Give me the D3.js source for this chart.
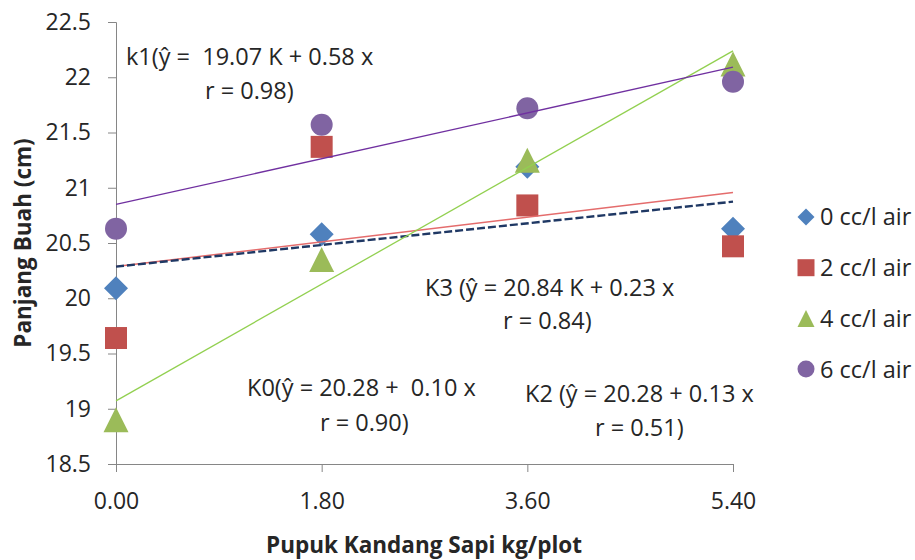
<!DOCTYPE html>
<html>
<head>
<meta charset="utf-8">
<script src="https://d3js.org/d3.v7.min.js"></script>
<style>
  body { margin: 0; background: #fff; }
  svg text { font-family: "Open Sans", "Noto Sans", sans-serif; fill: #262626; white-space: pre; }
  .axis path, .axis line { stroke: #868686; }
  .axis text { fill: #262626; }
</style>
<title>Panjang Buah</title>
</head>
<body>
<svg id="chart" width="915" height="560"></svg>
<script>
// data
var categories = ["0.00", "1.80", "3.60", "5.40"];
var seriesNames = ["0 cc/l air", "2 cc/l air", "4 cc/l air", "6 cc/l air"];
var air0 = [20.09, 20.58, 21.19, 20.63];
var air2 = [19.64, 21.37, 20.84, 20.47];
var air4 = [18.90, 20.35, 21.25, 22.12];
var air6 = [20.63, 21.57, 21.72, 21.96];
var yTicks = [18.5, 19, 19.5, 20, 20.5, 21, 21.5, 22, 22.5];

var annotations = [
  ["k1(ŷ =  19.07 K + 0.58 x", "r = 0.98)"],
  ["K3 (ŷ = 20.84 K + 0.23 x", "r = 0.84)"],
  ["K0(ŷ = 20.28 +  0.10 x", "r = 0.90)"],
  ["K2 (ŷ = 20.28 + 0.13 x", "r = 0.51)"]
];

var series = [air0, air2, air4, air6];

// excel-like marker shapes
var diamond = { draw: function(c, size) { var r = Math.sqrt(size) / 2;
  c.moveTo(0, -r); c.lineTo(r, 0); c.lineTo(0, r); c.lineTo(-r, 0); c.closePath(); } };
var triangle = { draw: function(c, size) { var r = Math.sqrt(size) / 2;
  c.moveTo(0, -r); c.lineTo(r, r); c.lineTo(-r, r); c.closePath(); } };
var square = { draw: function(c, size) { var r = Math.sqrt(size) / 2;
  c.rect(-r, -r, 2 * r, 2 * r); } };
var circle = { draw: function(c, size) { var r = Math.sqrt(size) / 2;
  c.moveTo(r, 0); c.arc(0, 0, r, 0, 2 * Math.PI); } };

var shapes = [diamond, square, triangle, circle];
var markerSize = [24 * 24, 22 * 22, 25 * 25, 22 * 22];
var colors = ["#4f81bd", "#c0504d", "#9bbb59", "#8064a2"];
// trendline styles as drawn in the original
var trendColor = ["#e46c6c", "#1f3864", "#92d050", "#7030a0"];
var trendDash = [null, "8,3", null, null];
var trendWidth = [1.5, 2.4, 1.3, 1.3];

var svg = d3.select("#chart");

var x = d3.scalePoint().domain(categories).range([116, 733]);
var y = d3.scaleLinear().domain([18.5, 22.5]).range([464, 22]);

// axes
svg.append("g").attr("class", "axis")
  .attr("transform", "translate(116,0)")
  .call(d3.axisLeft(y).tickValues(yTicks).tickSize(8).tickPadding(17)
    .tickFormat(function(d){ return d3.format("")(d); }))
  .call(function(g){ g.selectAll("text").style("font-size", "23px"); });

svg.append("g").attr("class", "axis")
  .attr("transform", "translate(0,464)")
  .call(d3.axisBottom(x).tickSize(8).tickSizeOuter(8).tickPadding(21))
  .call(function(g){ g.selectAll("text").style("font-size", "23px"); });

// markers
series.forEach(function(vals, s) {
  svg.append("g").selectAll("path").data(vals).enter().append("path")
    .attr("d", d3.symbol().type(shapes[s]).size(markerSize[s]))
    .attr("transform", function(d, i){ return "translate(" + x(categories[i]) + "," + y(d) + ")"; })
    .attr("fill", colors[s]);
});

// linear trendlines (least squares on category index)
series.forEach(function(vals, s) {
  var n = vals.length, mx = (n + 1) / 2, my = d3.mean(vals);
  var sxy = 0, sxx = 0;
  vals.forEach(function(v, i){ sxy += (i + 1 - mx) * (v - my); sxx += (i + 1 - mx) * (i + 1 - mx); });
  var b = sxy / sxx, a = my - b * mx;
  svg.append("line")
    .attr("x1", x(categories[0])).attr("y1", y(a + b * 1))
    .attr("x2", x(categories[n - 1])).attr("y2", y(a + b * n))
    .attr("stroke", trendColor[s])
    .attr("stroke-width", trendWidth[s])
    .attr("stroke-dasharray", trendDash[s]);
});

// equation labels
var annPos = [[126, 65, 205, 99], [425, 296, 503, 329], [247, 396, 320, 431], [525, 402, 595, 436]];
annotations.forEach(function(a, i) {
  var p = annPos[i];
  svg.append("text").attr("x", p[0]).attr("y", p[1]).style("font-size", "23.5px").text(a[0]);
  svg.append("text").attr("x", p[2]).attr("y", p[3]).style("font-size", "23.5px").text(a[1]);
});

// legend
var legend = svg.append("g").selectAll("g").data(seriesNames).enter().append("g")
  .attr("transform", function(d, i){ return "translate(806," + (217 + i * 50.7) + ")"; });
legend.append("path")
  .attr("d", function(d, i){ return d3.symbol().type(shapes[i]).size(17 * 17)(); })
  .attr("fill", function(d, i){ return colors[i]; });
legend.append("text").attr("x", 14).attr("dy", "0.36em")
  .style("font-size", "23.5px").text(function(d){ return d; });

// axis titles
svg.append("text")
  .attr("transform", "translate(31,243) rotate(-90)")
  .attr("text-anchor", "middle")
  .style("font-size", "22.5px").style("font-weight", "bold")
  .text("Panjang Buah (cm)");
svg.append("text")
  .attr("x", 424).attr("y", 553)
  .attr("text-anchor", "middle")
  .style("font-size", "22.5px").style("font-weight", "bold")
  .text("Pupuk Kandang Sapi kg/plot");
</script>
</body>
</html>
